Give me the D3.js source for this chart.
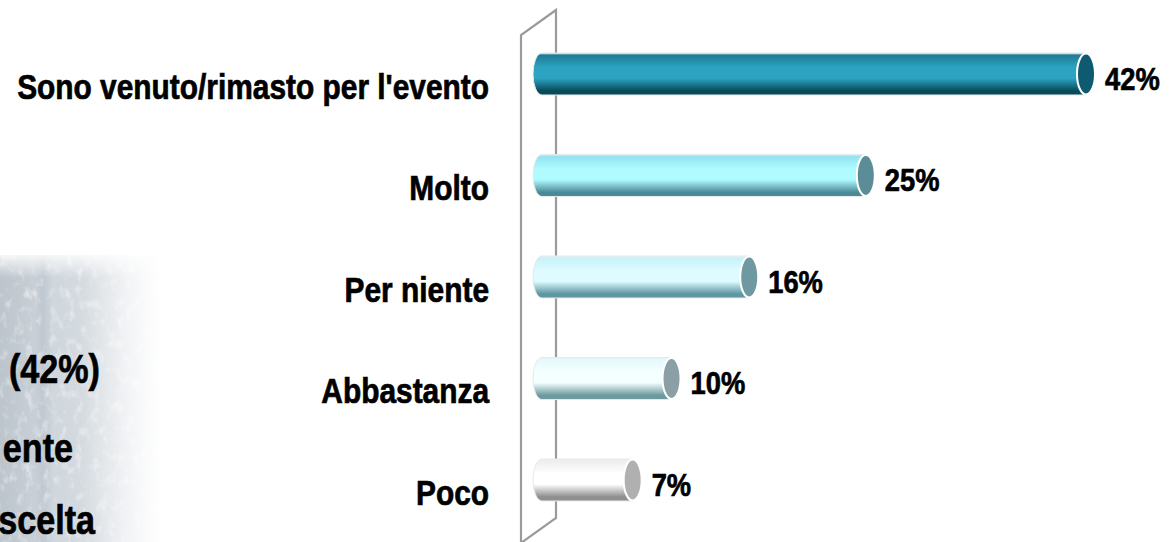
<!DOCTYPE html>
<html>
<head>
<meta charset="utf-8">
<script src="https://cdn.jsdelivr.net/npm/d3@7"></script>
<style>
  body { margin: 0; background: #fff; }
  svg { display: block; }
  .lbl { font-family: "Liberation Sans", Arial, sans-serif; font-weight: bold; fill: #000; stroke: #000; stroke-width: 0.7; }
</style>
</head>
<body>
<svg id="chart" width="1176" height="542"></svg>
<script>
// data
var categories = ["Sono venuto/rimasto per l'evento", "Molto", "Per niente", "Abbastanza", "Poco"];
var values = [42, 25, 16, 10, 7];
var valueLabels = ["42%", "25%", "16%", "10%", "7%"];
// colours of each bar: top, light band, bottom, end cap
var barTop = ["#1f7b94", "#92e3ef", "#c6f2f8", "#e4f9fc", "#eeeeee"];
var barMid = ["#2ca4c1", "#b0fbff", "#defcff", "#f4ffff", "#ffffff"];
var barBot = ["#0a4a5b", "#4b8a97", "#5d97a2", "#6c9a9f", "#8f8f8f"];
var capFill = ["#0e5a70", "#5b8c98", "#6e98a2", "#8aa0a6", "#b0b0b0"];
// faded text on the picture at left
var sideTexts = ["(42%)", "ente", "scelta"];

var svg = d3.select("#chart"),
    defs = svg.append("defs");

var x = d3.scaleLinear().domain([0, 42]).range([542, 1086]);
var y = d3.scaleBand().domain(categories).range([23.25, 530.75])
    .paddingInner(0.586).paddingOuter(0.293);

var bh = y.bandwidth(), rx = 9;
var squeeze = 1; // horizontal squeeze for the condensed look, set below

// draws a label: text at (0,0) inside a translated group, squeezed later
function label(parent, tx, ty, txt, size, anchor) {
    var g = parent.append("g").attr("transform", "translate(" + tx + "," + ty + ")");
    g.append("text").attr("class", "lbl")
        .attr("text-anchor", anchor)
        .attr("font-size", size)
        .attr("dy", "0.36em")
        .text(txt);
    return g;
}

// ---- faded photo on the left ----
var tex = defs.append("filter").attr("id", "tex").attr("x", 0).attr("y", 0).attr("width", 1).attr("height", 1);
tex.append("feTurbulence").attr("type", "fractalNoise").attr("baseFrequency", "0.12 0.08").attr("numOctaves", 3).attr("seed", 7);
tex.append("feColorMatrix").attr("type", "matrix")
    .attr("values", "0 0 0 0 1  0 0 0 0 1  0 0 0 0 1  0 0 0 2.4 -1.25");
tex.append("feComposite").attr("in2", "SourceGraphic").attr("operator", "in");

var hg = defs.append("linearGradient").attr("id", "fadeH").attr("x1", 0).attr("x2", 1).attr("y1", 0).attr("y2", 0);
hg.append("stop").attr("offset", "0").attr("stop-color", "#fff").attr("stop-opacity", 0);
hg.append("stop").attr("offset", "0.5").attr("stop-color", "#fff").attr("stop-opacity", 0.1);
hg.append("stop").attr("offset", "0.8").attr("stop-color", "#fff").attr("stop-opacity", 0.7);
hg.append("stop").attr("offset", "1").attr("stop-color", "#fff").attr("stop-opacity", 1);
var vg = defs.append("linearGradient").attr("id", "fadeV").attr("x1", 0).attr("x2", 0).attr("y1", 0).attr("y2", 1);
vg.append("stop").attr("offset", "0").attr("stop-color", "#fff").attr("stop-opacity", 1);
vg.append("stop").attr("offset", "1").attr("stop-color", "#fff").attr("stop-opacity", 0);
var pg = defs.append("linearGradient").attr("id", "photo").attr("x1", 0).attr("x2", 1).attr("y1", 0).attr("y2", 0);
pg.append("stop").attr("offset", "0").attr("stop-color", "#bcc4cc");
pg.append("stop").attr("offset", "0.22").attr("stop-color", "#c6cdd4");
pg.append("stop").attr("offset", "0.27").attr("stop-color", "#bcc5ce");
pg.append("stop").attr("offset", "0.33").attr("stop-color", "#ccd3da");
pg.append("stop").attr("offset", "1").attr("stop-color", "#d8dde2");

var photo = svg.append("g");
photo.append("rect").attr("x", 0).attr("y", 255).attr("width", 160).attr("height", 287).attr("fill", "url(#photo)");
photo.append("rect").attr("x", 0).attr("y", 255).attr("width", 160).attr("height", 287)
    .attr("fill", "#fff").attr("filter", "url(#tex)").attr("opacity", 0.55);
photo.append("rect").attr("x", 0).attr("y", 250).attr("width", 161).attr("height", 292).attr("fill", "url(#fadeH)");
photo.append("rect").attr("x", 0).attr("y", 250).attr("width", 161).attr("height", 28).attr("fill", "url(#fadeV)");

// ---- 3D wall (the axis) ----
var x0 = x(0), dy = 25;
var wall = svg.append("g").attr("fill", "none").attr("stroke", "#9a9a9a").attr("stroke-width", 2.2);
wall.append("path").attr("d", d3.line()([
    [x0 - 21, 560], [x0 - 21, 10 + dy], [x0 + 14, 10], [x0 + 14, 518], [x0 - 21, 518 + dy]]));

// ---- bars ----
categories.forEach(function(c, i) {
    var g = defs.append("linearGradient").attr("id", "bar" + i)
        .attr("x1", 0).attr("x2", 0).attr("y1", 0).attr("y2", 1);
    g.append("stop").attr("offset", "0").attr("stop-color", "#e8eef0");
    g.append("stop").attr("offset", "0.05").attr("stop-color", barTop[i]);
    g.append("stop").attr("offset", "0.35").attr("stop-color", barMid[i]);
    g.append("stop").attr("offset", "0.6").attr("stop-color", barMid[i]);
    g.append("stop").attr("offset", "0.9").attr("stop-color", barBot[i]);
    g.append("stop").attr("offset", "1").attr("stop-color", barBot[i]);
});

var bars = svg.selectAll(".bar").data(categories).enter().append("g").attr("class", "bar");

bars.append("path")
    .attr("fill", function(d, i) { return "url(#bar" + i + ")"; })
    .attr("stroke", "#e6eaec").attr("stroke-width", 1)
    .attr("d", function(d, i) {
        var t = y(d), b = t + bh, x1 = x(values[i]);
        return "M" + x1 + "," + t + "L" + x0 + "," + t +
            "A" + rx + "," + (bh / 2) + " 0 0 0 " + x0 + "," + b +
            "L" + x1 + "," + b + "Z";
    });

bars.append("ellipse")
    .attr("cx", function(d, i) { return x(values[i]); })
    .attr("cy", function(d) { return y(d) + bh / 2; })
    .attr("rx", rx).attr("ry", bh / 2 - 0.5)
    .attr("fill", function(d, i) { return capFill[i]; })
    .attr("stroke", "#fff").attr("stroke-width", 2);

// ---- texts ----
var texts = svg.append("g");
var labels = [];
categories.forEach(function(c, i) {
    labels.push(label(texts, 489, y(c) + bh / 2 + 12, c, 35, "end"));
    labels.push(label(texts, x(values[i]) + rx + 10, y(c) + bh / 2 + 4, valueLabels[i], 32, "start"));
});
var sideX = [100, 73, 95], sideY = [369, 448, 520];
sideTexts.forEach(function(s, i) {
    labels.push(label(texts, sideX[i], sideY[i], s, 40, "end"));
});

// squeeze so the longest label runs from x=17 to x=489
var longest = labels[0].select("text").node().getComputedTextLength();
squeeze = 472 / longest;
labels.forEach(function(g) {
    g.select("text").attr("transform", "scale(" + squeeze + ",1)");
});
</script>
</body>
</html>
